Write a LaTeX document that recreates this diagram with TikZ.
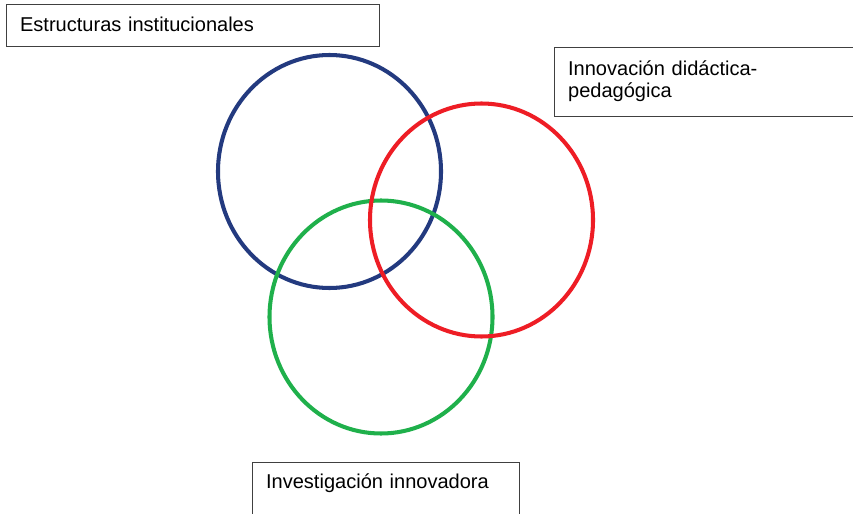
\documentclass[tikz,border=0pt]{standalone}
\usepackage{fontspec}
\setmainfont{Liberation Sans}
\usepackage{tikz}
\usetikzlibrary{shapes.geometric}
\definecolor{ringNavy}{HTML}{233A7F}
\definecolor{ringRed}{HTML}{EE1D25}
\definecolor{ringGreen}{HTML}{1FB04B}
\colorlet{boxgray}{black!75}

\begin{document}
\begin{tikzpicture}[
  every node/.style={font=\fontsize{11.4}{12.5}\selectfont},
  tagbox/.style={draw=boxgray, line width=0.7pt, anchor=north west, align=left,
                 inner xsep=0.27cm, text height=0.286cm},
  ring/.style={ellipse, draw=#1, line width=2.3pt, minimum width=4.46cm,
               minimum height=4.66cm, inner sep=0pt},
]
\path[fill=white, use as bounding box] (0,0) rectangle (17.06,-10.28);

% Rings
\node[ring=ringNavy] (estructuras) at (6.59,-3.43) {};
\node[ring=ringGreen] (investigacion) at (7.62,-6.34) {};
\node[ring=ringRed] (innovacion) at (9.63,-4.40) {};

% Text boxes
\node[tagbox, text width=6.92cm, inner ysep=0.254cm, text depth=0.046cm]
  (estructurasbox) at (0.12,-0.08) {Estructuras institucionales};

\node[tagbox, text width=5.86cm, inner ysep=0.274cm, text depth=0.546cm]
  (innovacionbox) at (11.08,-0.94) {Innovación didáctica-\\pedagógica};

\node[tagbox, text width=4.8cm, inner ysep=0.234cm, text depth=0.5cm]
  (investigacionbox) at (5.04,-9.24) {Investigación innovadora};
\end{tikzpicture}
\end{document}
